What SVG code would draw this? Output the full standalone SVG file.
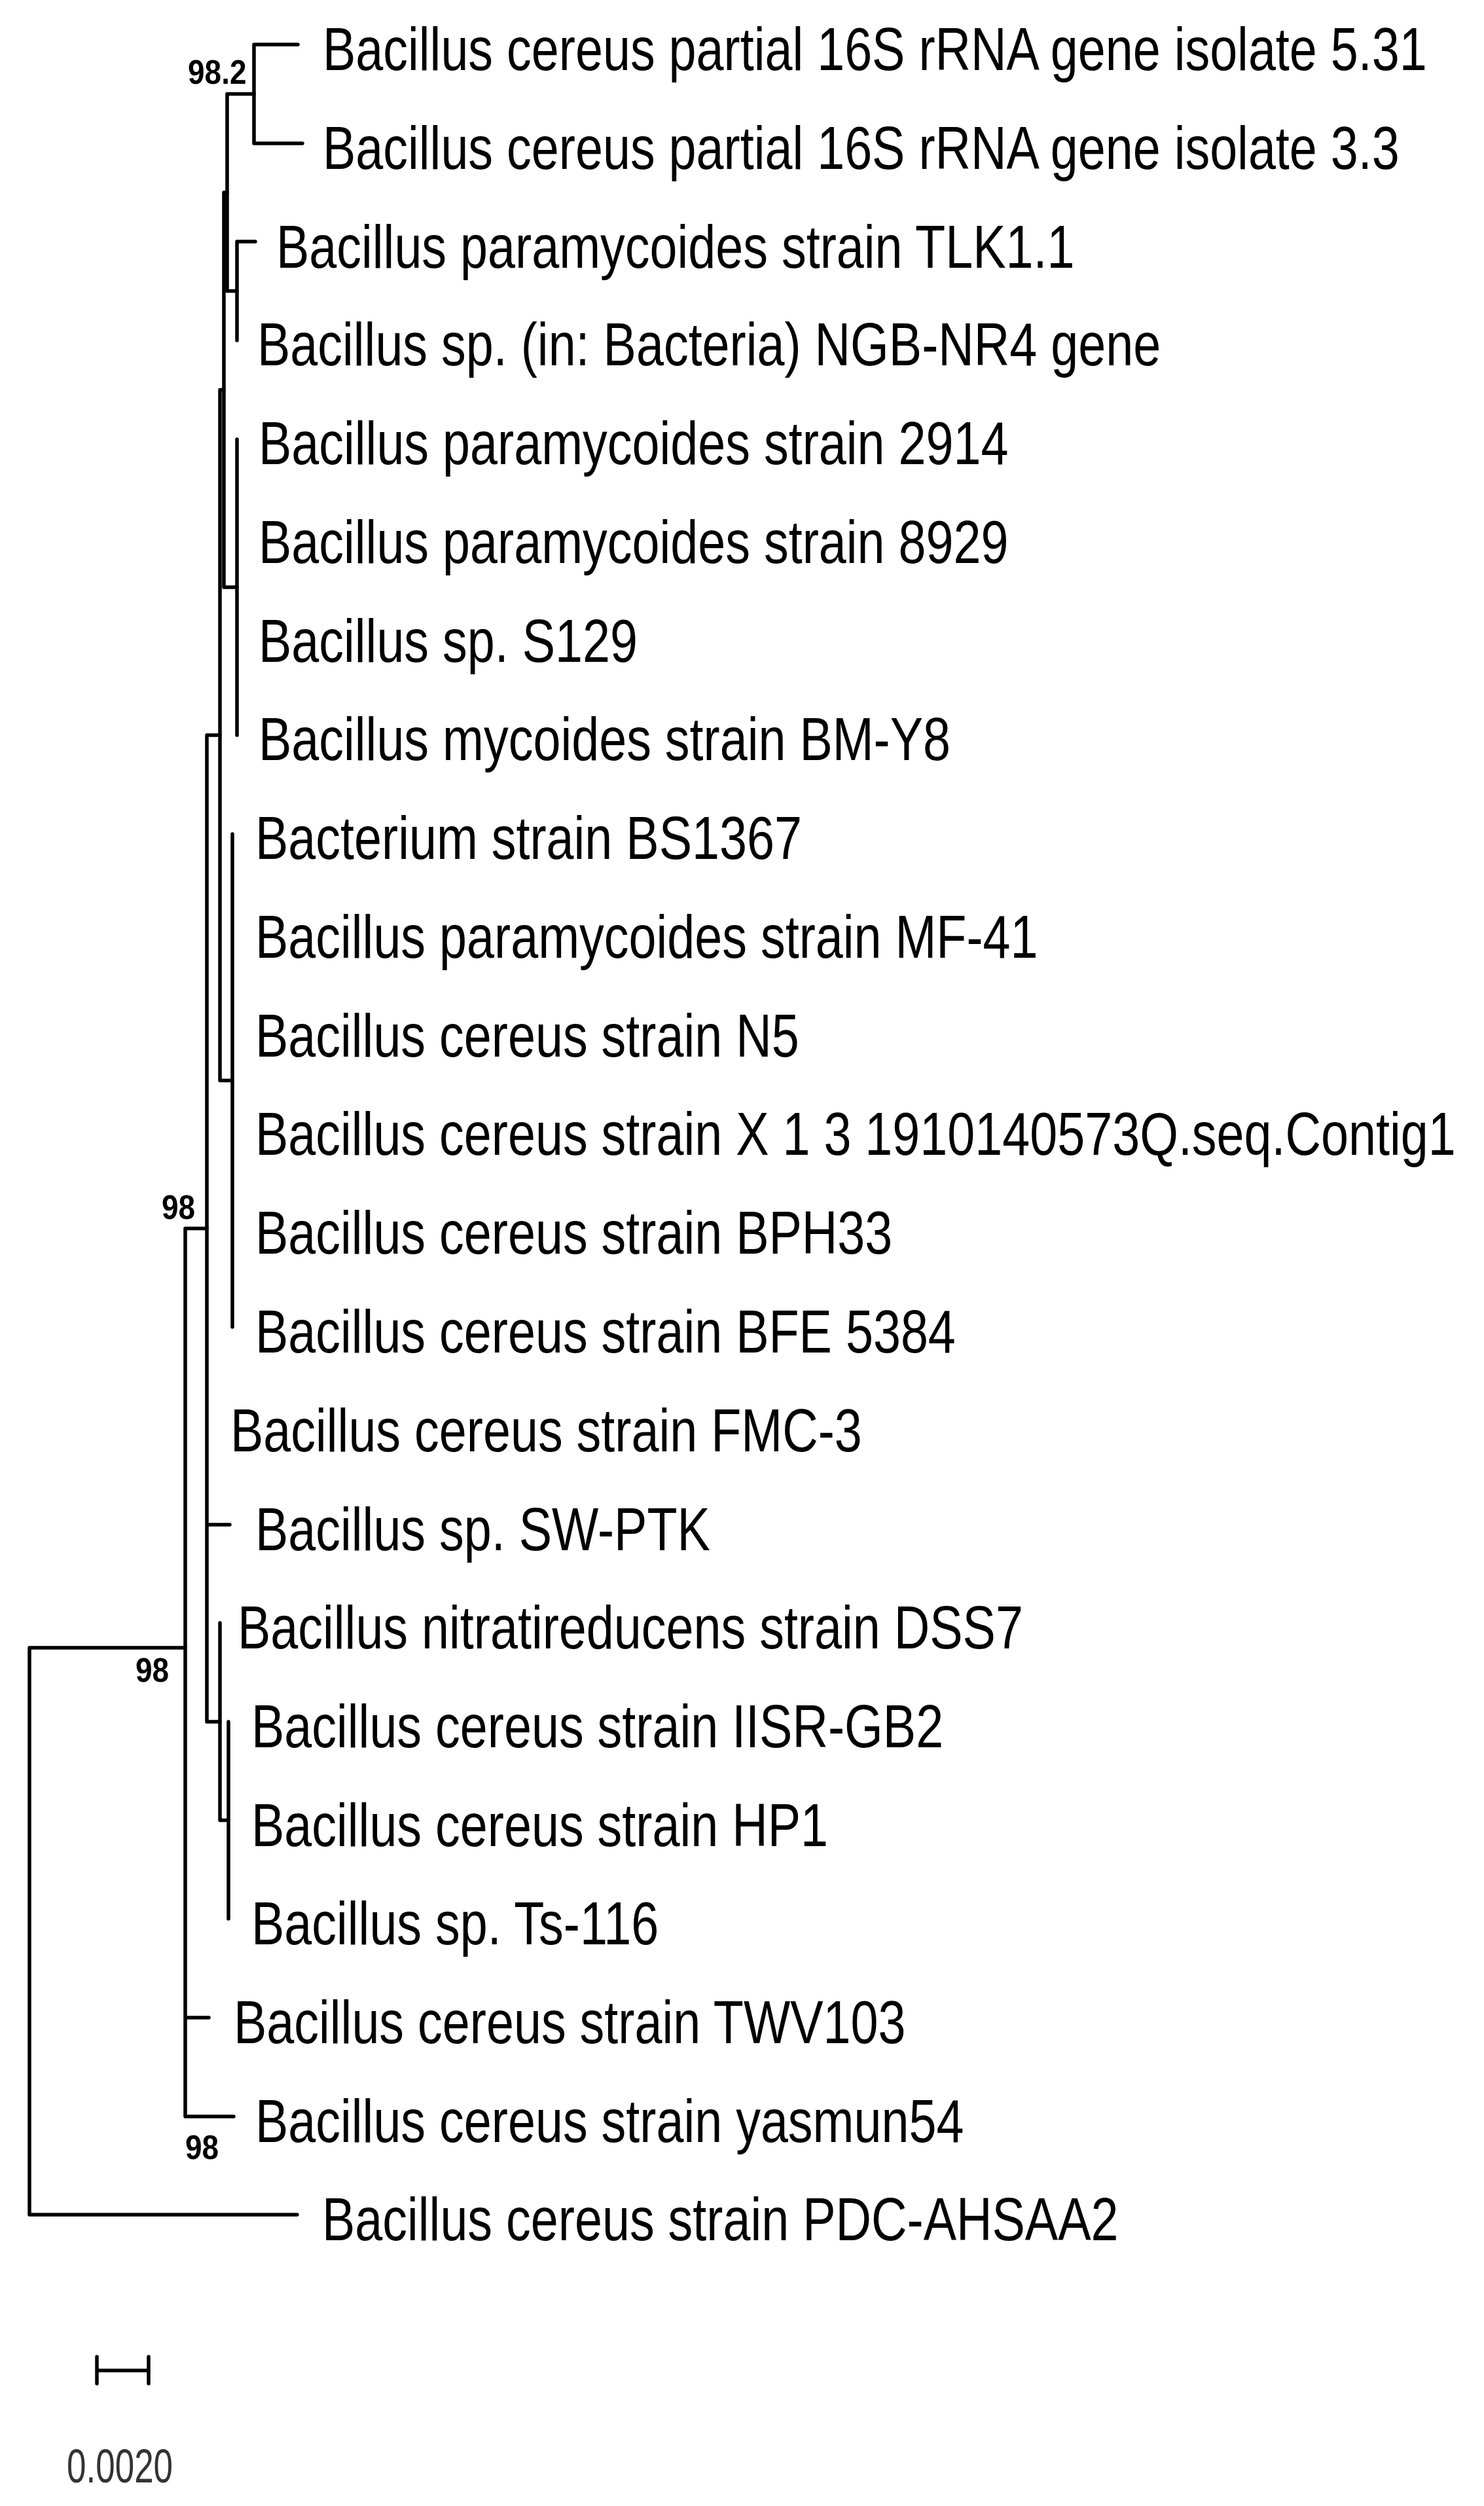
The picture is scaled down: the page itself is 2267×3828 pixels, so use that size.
<svg xmlns="http://www.w3.org/2000/svg" width="2267" height="3828" viewBox="0 0 2267 3828">
<style>
.t{font-family:"Liberation Sans",Arial,sans-serif;font-size:75.5px;fill:#000}
.bs{font-family:"Liberation Sans",Arial,sans-serif;font-size:46px;font-weight:bold;fill:#000}
.sc{font-family:"Liberation Sans",Arial,sans-serif;font-size:53px;fill:#333}
.br{stroke:#000;stroke-width:5.5;fill:none;stroke-linecap:round;stroke-linejoin:round}
</style>
<rect width="2267" height="3828" fill="#fff"/>
<g id="connectors" class="br">
<path d="M388,68V219M388,68H455M388,219H462"/>
<path d="M362,369V520M362,369H390"/>
<path d="M347,143.5V444.5M347,143.5H388M347,444.5H362"/>
<path d="M362,671V1123"/>
<path d="M342,294V897M342,294H347M342,897H362"/>
<path d="M355,1274V2027"/>
<path d="M336,595.5V1650.5M336,595.5H342M336,1650.5H355"/>
<path d="M349,2630V2931"/>
<path d="M336,2479V2780.5M336,2780.5H349"/>
<path d="M316,1123V2630M316,1123H336M316,2329H351M316,2630H336"/>
<path d="M283,1876.5V3233M283,1876.5H316M283,3082H319M283,3233H357"/>
<path d="M45,2517V3383M45,2517H283M45,3383H454"/>
</g>
<g id="leaf1"><text class="t" transform="translate(493 107) scale(1 1.23)">Bacillus cereus partial 16S rRNA gene isolate 5.31</text></g>
<g id="leaf2"><text class="t" transform="translate(493 258) scale(1 1.23)">Bacillus cereus partial 16S rRNA gene isolate 3.3</text></g>
<g id="leaf3"><text class="t" transform="translate(422 409) scale(1 1.23)">Bacillus paramycoides strain TLK1.1</text></g>
<g id="leaf4"><text class="t" transform="translate(393 558) scale(1 1.23)">Bacillus sp. (in: Bacteria) NGB-NR4 gene</text></g>
<g id="leaf5"><text class="t" transform="translate(395 709) scale(1 1.23)">Bacillus paramycoides strain 2914</text></g>
<g id="leaf6"><text class="t" transform="translate(395 860) scale(1 1.23)">Bacillus paramycoides strain 8929</text></g>
<g id="leaf7"><text class="t" transform="translate(395 1011) scale(1 1.23)">Bacillus sp. S129</text></g>
<g id="leaf8"><text class="t" transform="translate(395 1161) scale(1 1.23)">Bacillus mycoides strain BM-Y8</text></g>
<g id="leaf9"><text class="t" transform="translate(390 1312) scale(1 1.23)">Bacterium strain BS1367</text></g>
<g id="leaf10"><text class="t" transform="translate(390 1463) scale(1 1.23)">Bacillus paramycoides strain MF-41</text></g>
<g id="leaf11"><text class="t" transform="translate(390 1614) scale(1 1.23)">Bacillus cereus strain N5</text></g>
<g id="leaf12"><text class="t" transform="translate(390 1764) scale(1 1.23)">Bacillus cereus strain X 1 3 1910140573Q.seq.Contig1</text></g>
<g id="leaf13"><text class="t" transform="translate(390 1915) scale(1 1.23)">Bacillus cereus strain BPH33</text></g>
<g id="leaf14"><text class="t" transform="translate(390 2066) scale(1 1.23)">Bacillus cereus strain BFE 5384</text></g>
<g id="leaf15"><text class="t" transform="translate(352 2217) scale(1 1.23)">Bacillus cereus strain FMC-3</text></g>
<g id="leaf16"><text class="t" transform="translate(390 2368) scale(1 1.23)">Bacillus sp. SW-PTK</text></g>
<g id="leaf17"><text class="t" transform="translate(363 2518) scale(1 1.23)">Bacillus nitratireducens strain DSS7</text></g>
<g id="leaf18"><text class="t" transform="translate(384 2669) scale(1 1.23)">Bacillus cereus strain IISR-GB2</text></g>
<g id="leaf19"><text class="t" transform="translate(384 2820) scale(1 1.23)">Bacillus cereus strain HP1</text></g>
<g id="leaf20"><text class="t" transform="translate(384 2970) scale(1 1.23)">Bacillus sp. Ts-116</text></g>
<g id="leaf21"><text class="t" transform="translate(357 3121) scale(1 1.23)">Bacillus cereus strain TWV103</text></g>
<g id="leaf22"><text class="t" transform="translate(390 3272) scale(1 1.23)">Bacillus cereus strain yasmun54</text></g>
<g id="leaf23"><text class="t" transform="translate(492 3422) scale(1 1.23)">Bacillus cereus strain PDC-AHSAA2</text></g>
<g id="node-G"><text class="bs" transform="translate(287 128) scale(1 1.12)">98.2</text></g>
<g id="node-B"><text class="bs" transform="translate(247 1862) scale(1 1.12)">98</text></g>
<g id="node-A"><text class="bs" transform="translate(207 2569) scale(1 1.12)">98</text></g>
<g id="node-K"><text class="bs" transform="translate(283 3298) scale(1 1.12)">98</text></g>
<g id="scale-bar">
<path class="br" d="M148,3621H227M148,3600V3641M227,3600V3641"/>
<text class="sc" transform="translate(102 3792) scale(1 1.35)">0.0020</text>
</g>
</svg>
